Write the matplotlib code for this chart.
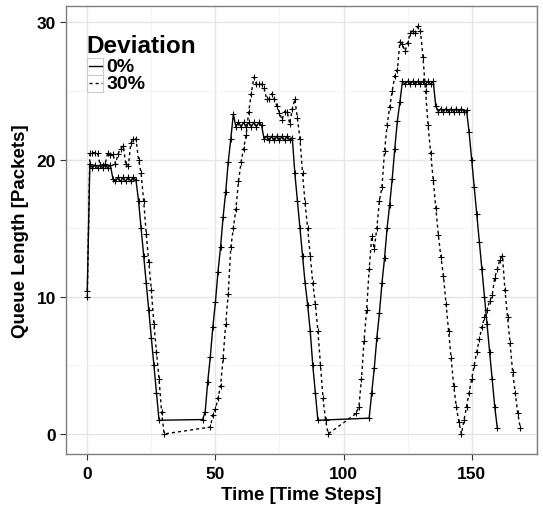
import matplotlib
matplotlib.use("Agg")
import matplotlib.pyplot as plt
from matplotlib.lines import Line2D
from matplotlib.patches import Rectangle

# queue length, 0% deviation (gaps = no samples while queue idle)
t_0 = list(range(0, 29)) + list(range(45, 91)) + list(range(110, 161))
q_0 = [10.4,
       19.7, 19.4, 19.6, 19.4, 19.6, 19.4, 19.6, 19.4, 19.6,
       18.6, 18.4, 18.7, 18.4, 18.7, 18.4, 18.7, 18.4, 18.7, 18.5,
       17.0, 15.0, 13.0, 11.0, 9.0, 7.0, 5.0, 3.0, 1.0,
       1.05, 1.6, 3.8, 5.6, 7.8, 9.6, 11.8, 13.6, 15.8, 17.6, 19.8, 21.5, 23.3,
       22.4, 22.7, 22.4, 22.7, 22.4, 22.7, 22.4, 22.7, 22.4, 22.7, 22.5,
       21.5, 21.7, 21.4, 21.7, 21.4, 21.7, 21.4, 21.7, 21.4, 21.7, 21.4, 21.6,
       19.0, 17.0, 15.0, 13.0, 11.0, 9.4, 7.5, 5.0, 3.0, 1.0,
       1.15, 3.0, 4.8, 7.0, 8.8, 11.0, 12.8, 15.0, 16.7, 18.6, 20.8, 22.8, 24.2,
       25.7, 25.5, 25.7, 25.5, 25.7, 25.5, 25.7, 25.5, 25.7, 25.5, 25.7, 25.5, 25.7,
       23.9, 23.5, 23.7, 23.5, 23.7, 23.5, 23.7, 23.5, 23.7, 23.5, 23.7, 23.5, 23.6,
       22.0, 20.0, 18.0, 16.0, 14.0, 12.0, 10.0, 8.0, 6.0, 4.0, 2.0, 0.45]

# queue length, 30% deviation
t_30 = list(range(0, 31)) + list(range(48, 95)) + list(range(105, 170))
q_30 = [10.0,
        20.5, 20.5, 20.5, 20.5, 19.6, 19.6, 19.7, 20.5, 20.3, 20.4,
        19.7, 20.4, 20.8, 21.0, 19.7, 19.5, 21.2, 21.5, 21.5, 20.0,
        19.0, 17.0, 14.6, 12.5, 10.5, 8.0, 6.0, 4.0, 1.6, 0.0,
        0.5, 1.4, 1.8, 2.6, 3.5, 5.5, 8.0, 10.2, 13.6, 15.0, 16.4, 18.4,
        19.8, 20.8, 21.8, 23.5, 24.8, 26.0, 25.5, 25.5, 25.5, 25.2, 24.4,
        24.4, 24.8, 24.4, 23.9, 23.4, 22.9, 23.5, 23.5, 22.6, 23.7, 24.4,
        23.0, 21.5, 19.0, 16.8, 15.0, 13.0, 11.0, 9.5, 7.5, 5.0, 2.6, 1.0, 0.0,
        1.5, 2.0, 4.0, 6.8, 9.0, 12.0, 14.4, 13.5, 15.0, 17.0, 18.0,
        20.6, 22.5, 23.8, 25.0, 26.1, 26.5, 28.6, 28.4, 27.9, 28.5,
        29.2, 29.4, 29.2, 29.7, 29.4, 27.5, 25.0, 22.5, 20.5, 18.5,
        16.5, 14.5, 12.9, 11.5, 9.5, 7.5, 5.5, 3.5, 2.0, 0.9, 0.0,
        1.0, 2.0, 3.0, 4.0, 5.0, 6.0, 6.9, 7.8, 8.5, 9.0, 9.7, 10.1,
        11.4, 12.0, 12.7, 13.0,
        10.5, 8.5, 6.6, 4.5, 3.0, 1.5, 0.4]

series_labels = ["0%", "30%"]
legend_title = "Deviation"

W, H = 543, 506
plt.rcParams['font.family'] = ['Liberation Sans', 'DejaVu Sans']
fig = plt.figure(figsize=(W / 100, H / 100), dpi=100)
left, right, top, bottom = 65.5, 537, 7, 455.4
ax = fig.add_axes([left / W, 1 - bottom / H, (right - left) / W, (bottom - top) / H])

ax.plot(t_0, q_0, color='black', lw=1.0, ls='-', marker='+', ms=4.5, mew=0.8, zorder=3)
ax.plot(t_30, q_30, color='black', lw=1.0, ls=(0, (2.2, 2.2)), marker='+', ms=4.5, mew=0.8, zorder=3)

ax.set_xlim(-8.5, 175.5)
ax.set_ylim(-1.49, 31.19)
ax.set_xticks([0, 50, 100, 150])
ax.set_yticks([0, 10, 20, 30])
ax.set_xticks([25, 75, 125, 175], minor=True)
ax.set_yticks([5, 15, 25], minor=True)
ax.grid(which='major', color='#E5E5E5', lw=1.0, zorder=0)
ax.grid(which='minor', color='#F2F2F2', lw=0.6, zorder=0)
ax.set_axisbelow(True)
for s in ax.spines.values():
    s.set_color('#7F7F7F')
    s.set_linewidth(1.0)
ax.tick_params(which='major', length=4, width=0.8, color='#333333', pad=3,
               labelsize=12.5, labelcolor='black')
ax.tick_params(axis='x', which='major', pad=4)
ax.tick_params(which='minor', length=0)
for lab in ax.get_xticklabels() + ax.get_yticklabels():
    lab.set_fontweight('bold')

ax.set_xlabel("Time [Time Steps]", fontsize=13.5, fontweight='bold', labelpad=4)
ax.set_ylabel("Queue Length [Packets]", fontsize=13.5, fontweight='bold', labelpad=5)

# legend drawn inside the panel, top left
def fx(px):
    return px / W

def fy(py):
    return 1 - py / H

fig.text(fx(86.5), fy(53.5), legend_title, fontsize=17.5, fontweight='bold', va='baseline')
styles = ['-', (0, (2.2, 2.2))]
for i, (lab, st) in enumerate(zip(series_labels, styles)):
    ktop = 59 + i * 17
    fig.patches.append(Rectangle((fx(87.3), fy(ktop + 16.5)), 16 / W, 16.5 / H,
                                 transform=fig.transFigure, fill=True,
                                 facecolor='white', edgecolor='#CCCCCC', lw=0.8))
    yc = fy(ktop + 8.25)
    fig.lines.append(Line2D([fx(89), fx(102)], [yc, yc], transform=fig.transFigure,
                            color='black', lw=1.0, ls=st))
    fig.text(fx(106.5), yc, lab, fontsize=14, fontweight='bold', va='center')

fig.savefig("out.png", dpi=100)
